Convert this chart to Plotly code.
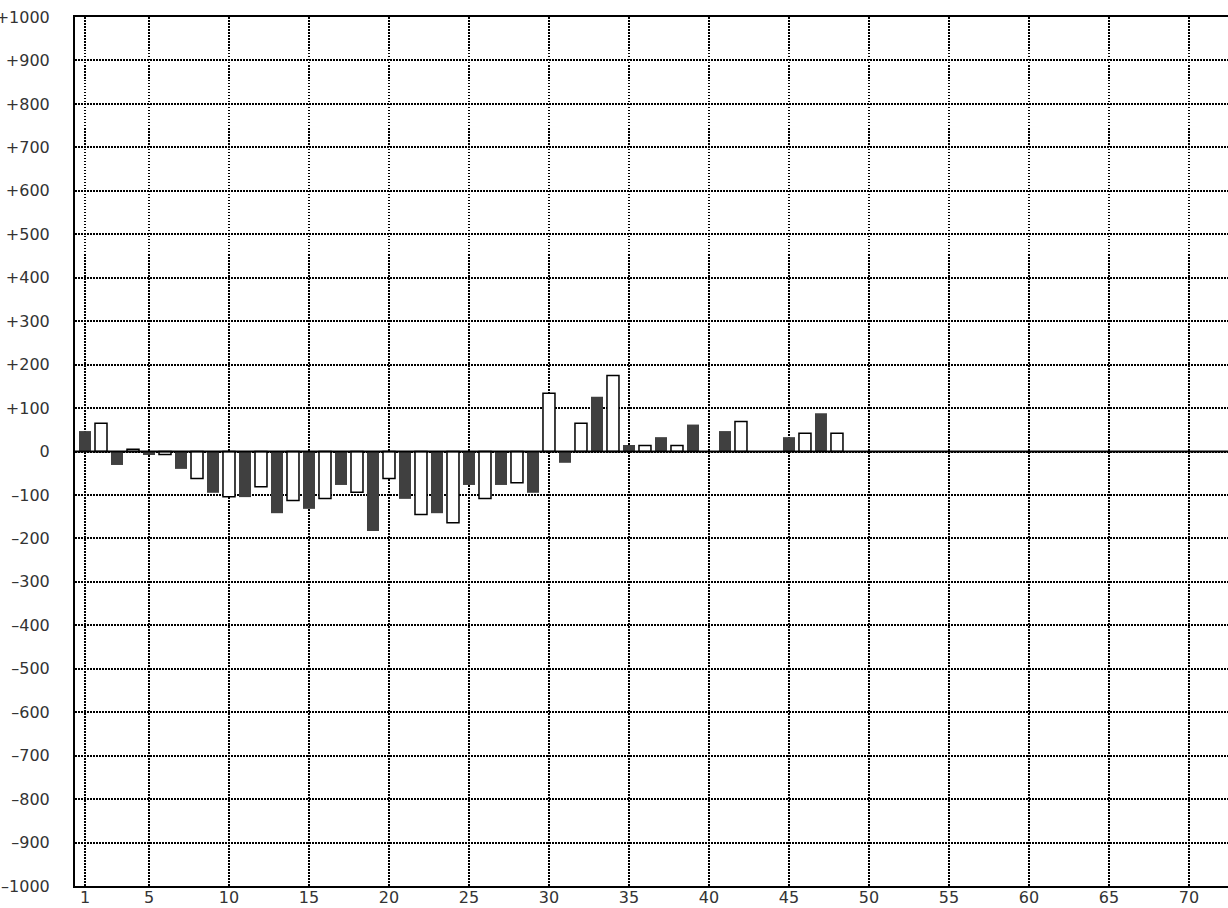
import plotly.graph_objects as go

# Dark (odd) series
dark_x = [1, 3, 5, 7, 9, 11, 13, 15, 17, 19, 21, 23, 25, 27, 29, 31, 33, 35, 37, 39, 41, 45, 47]
dark_y = [47, -31, -8, -40, -95, -105, -142, -132, -77, -183, -109, -142, -77, -77, -95, -26,
          126, 15, 33, 62, 47, 33, 88]

# White (even) series
white_x = [2, 4, 6, 8, 10, 12, 14, 16, 18, 20, 22, 24, 26, 28, 30, 32, 34, 36, 38, 42, 46, 48]
white_y = [65, 5, -7, -62, -104, -81, -113, -108, -94, -62, -145, -164, -108, -72, 134, 65,
           175, 14, 14, 69, 42, 42]

x_ticks = [1, 5, 10, 15, 20, 25, 30, 35, 40, 45, 50, 55, 60, 65, 70]
y_ticks = list(range(-1000, 1001, 100))
y_ticktext = [("+" + str(v)) if v > 0 else ("0" if v == 0 else "\u2013" + str(-v)) for v in y_ticks]

fig = go.Figure()
fig.add_trace(go.Bar(x=dark_x, y=dark_y, width=0.75,
                     marker=dict(color="#404040", line=dict(width=0)),
                     showlegend=False))
fig.add_trace(go.Bar(x=white_x, y=white_y, width=0.75,
                     marker=dict(color="white", line=dict(color="black", width=1.5)),
                     showlegend=False))

fig.add_shape(type="line", xref="paper", yref="y", x0=0, x1=1, y0=0, y1=0,
              line=dict(color="black", width=2), layer="above")

font = dict(family="DejaVu Sans", size=16, color="#333333")

fig.update_layout(
    width=1228, height=908,
    margin=dict(l=75, r=0, t=17, b=22, autoexpand=False),
    paper_bgcolor="white", plot_bgcolor="white",
    barmode="overlay",
    font=font,
    xaxis=dict(range=[0.375, 72.44], tickmode="array", tickvals=x_ticks,
               ticktext=[str(v) for v in x_ticks],
               showgrid=True, gridcolor="black", gridwidth=1.5, griddash="1.5px,1.5px",
               showline=True, linecolor="black", linewidth=2, mirror=True,
               zeroline=False, ticks="", tickfont=font, ticklabelstandoff=-4,
               automargin=False),
    yaxis=dict(range=[-1000, 1000], tickmode="array", tickvals=y_ticks, ticktext=y_ticktext,
               showgrid=True, gridcolor="black", gridwidth=1.5, griddash="1.5px,1.5px",
               showline=True, linecolor="black", linewidth=2, mirror=False,
               zeroline=False, ticks="", tickfont=font, ticklabelstandoff=20,
               automargin=False),
)

fig.write_html("out.html",
               config={"displayModeBar": False},
               post_script="document.body.style.margin='0px';document.body.style.overflow='hidden';")
